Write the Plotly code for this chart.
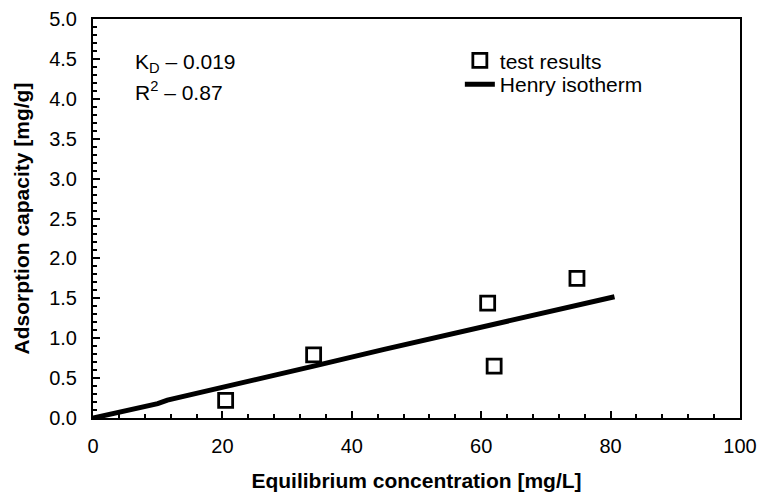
import plotly.graph_objects as go

# test results
test_x = [20.5, 34.1, 61.0, 62.0, 74.8]
test_y = [0.22, 0.79, 1.44, 0.65, 1.75]

# Henry isotherm line
henry_x = [0, 1.5, 10.0, 11.5, 20.5, 34.1, 45.0, 61.0, 62.0, 74.8, 80.6]
henry_y = [0, 0.025, 0.18, 0.225, 0.39, 0.65, 0.86, 1.16, 1.18, 1.42, 1.52]

x_ticks = [0, 20, 40, 60, 80, 100]
y_ticks = [0.0, 0.5, 1.0, 1.5, 2.0, 2.5, 3.0, 3.5, 4.0, 4.5, 5.0]

FONT = "Liberation Sans, Arial, sans-serif"

fig = go.Figure()
fig.add_trace(go.Scatter(
    x=test_x, y=test_y, mode="markers", name="test results",
    marker=dict(symbol="square-open", size=14, color="black",
                line=dict(width=2.8, color="black")),
    cliponaxis=False, legend="legend",
))
fig.add_trace(go.Scatter(
    x=henry_x, y=henry_y, mode="lines", name="Henry isotherm",
    line=dict(color="black", width=5), legend="legend2",
))

legend_common = dict(xanchor="left", yanchor="top", bgcolor="rgba(0,0,0,0)",
                     font=dict(size=21), itemwidth=30)

fig.update_layout(
    width=759, height=492,
    margin=dict(l=93, r=19, t=19, b=74, autoexpand=False),
    paper_bgcolor="white", plot_bgcolor="white",
    font=dict(family=FONT, size=20, color="black"),
    showlegend=True,
    legend=dict(x=0.567, y=0.947, **legend_common),
    legend2=dict(x=0.567, y=0.887, **legend_common),
    annotations=[
        dict(text="K<sub>D</sub> – 0.019", xref="paper", yref="paper",
             x=(133 - 93) / 647, y=1 - (63 - 19) / 399, xanchor="left",
             yanchor="middle", showarrow=False, font=dict(size=21)),
        dict(text="R<sup>2</sup> – 0.87", xref="paper", yref="paper",
             x=(133 - 93) / 647, y=1 - (91 - 19) / 399, xanchor="left",
             yanchor="middle", showarrow=False, font=dict(size=21)),
    ],
)

fig.update_xaxes(
    range=[0, 100], tickvals=x_ticks, ticktext=[str(v) for v in x_ticks],
    ticks="inside", ticklen=7, tickwidth=1.5, tickcolor="black",
    minor=dict(dtick=4, ticks="inside", ticklen=4, tickwidth=1.5, tickcolor="black"),
    showline=True, linecolor="black", linewidth=2, mirror=True,
    showgrid=False, zeroline=False, automargin=False,
    ticklabelstandoff=9,
    title=dict(text="<b>Equilibrium concentration [mg/L]</b>", font=dict(size=21), standoff=20),
)
fig.update_yaxes(
    range=[0, 5], tickvals=y_ticks, ticktext=[f"{v:.1f}" for v in y_ticks],
    ticks="inside", ticklen=7, tickwidth=1.5, tickcolor="black",
    minor=dict(dtick=0.1, ticks="inside", ticklen=4, tickwidth=1.5, tickcolor="black"),
    showline=True, linecolor="black", linewidth=2, mirror=True,
    showgrid=False, zeroline=False, automargin=False,
    ticklabelstandoff=10,
    title=dict(text="<b>Adsorption capacity [mg/g]</b>", font=dict(size=21), standoff=14),
)

fig.write_html("out.html")
